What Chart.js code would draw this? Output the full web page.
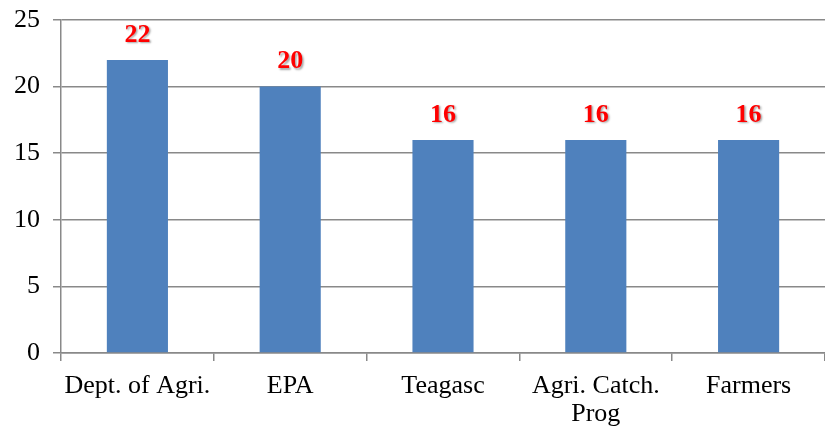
<!DOCTYPE html>
<html>
<head>
<meta charset="utf-8">
<script src="https://cdn.jsdelivr.net/npm/chart.js@4"></script>
<style>
  html, body { margin: 0; padding: 0; background: #fff; }
  #wrap { width: 825px; height: 427px; }
</style>
</head>
<body>
<div id="wrap"><canvas id="chart"></canvas></div>
<script>
const categories = ['Dept. of Agri.', 'EPA', 'Teagasc', ['Agri. Catch.', 'Prog'], 'Farmers']
const values = [22, 20, 16, 16, 16]
const y_ticks = [0, 5, 10, 15, 20, 25]

const bar_color = '#4F81BD'
const grid_color = '#898989'
const font_family = '"Liberation Serif", "Times New Roman", serif'

// red value labels above each bar
const value_labels = {
    id: 'value_labels',
    afterDatasetsDraw(chart) {
        const ctx = chart.ctx
        const meta = chart.getDatasetMeta(0)
        ctx.save()
        ctx.font = 'bold 26px ' + font_family
        ctx.fillStyle = '#FF0000'
        ctx.textAlign = 'center'
        ctx.textBaseline = 'middle'
        ctx.shadowColor = 'rgba(0,0,0,0.35)'
        ctx.shadowOffsetX = 1.5
        ctx.shadowOffsetY = 1.5
        ctx.shadowBlur = 2
        meta.data.forEach((bar, i) => {
            ctx.fillText(values[i], bar.x, bar.y - 25)
        })
        ctx.restore()
    }
}

new Chart('chart', {
    type: 'bar',
    data: {
        labels: categories,
        datasets: [{
            data: values,
            backgroundColor: bar_color,
            borderWidth: 0,
            categoryPercentage: 0.4,
            barPercentage: 1
        }]
    },
    options: {
        responsive: true,
        maintainAspectRatio: false,
        animation: false,
        layout: { padding: { top: 20, right: 0, left: 0, bottom: 0 } },
        plugins: {
            legend: { display: false },
            tooltip: { enabled: false }
        },
        scales: {
            x: {
                offset: true,
                grid: {
                    offset: true,
                    drawOnChartArea: false,
                    drawTicks: true,
                    tickLength: 8,
                    color: grid_color,
                    lineWidth: 1.5
                },
                border: { color: grid_color, width: 1.5 },
                ticks: {
                    color: '#000',
                    font: { family: font_family, size: 26, lineHeight: 1.05 },
                    padding: 12,
                    maxRotation: 0,
                    autoSkip: false
                },
                afterFit(scale) { scale.height = 74 }
            },
            y: {
                min: 0,
                max: 25,
                afterBuildTicks(scale) { scale.ticks = y_ticks.map(v => ({ value: v })) },
                grid: {
                    color: grid_color,
                    lineWidth: 1.5,
                    tickLength: 8
                },
                border: { color: grid_color, width: 1.5 },
                ticks: {
                    color: '#000',
                    font: { family: font_family, size: 26, lineHeight: 1 },
                    padding: 13
                },
                afterFit(scale) {
                    scale.width = 61
                    scale.paddingTop = 0
                    scale.paddingBottom = 0
                }
            }
        }
    },
    plugins: [value_labels]
})
</script>
</body>
</html>
